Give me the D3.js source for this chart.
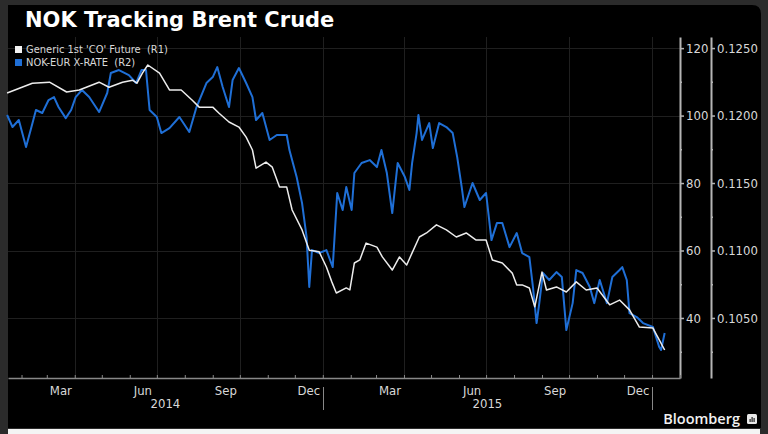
<!DOCTYPE html>
<html>
<head>
<meta charset="utf-8">
<script src="https://cdn.jsdelivr.net/npm/d3@7"></script>
<style>
  html, body { margin: 0; padding: 0; background: #2b2b2b; }
  svg { display: block; }
</style>
</head>
<body>
<svg id="chart" width="768" height="434"></svg>
<script>
// Generic 1st 'CO' Future (R1)
var brentDates = ['2014-01-16','2014-02-13','2014-03-04','2014-03-23','2014-04-06','2014-04-28','2014-05-09','2014-05-24','2014-06-04','2014-06-09','2014-06-15','2014-06-21','2014-07-04','2014-07-15','2014-07-28','2014-08-09','2014-08-17','2014-09-01','2014-09-08','2014-09-19','2014-09-30','2014-10-08','2014-10-15','2014-10-19','2014-10-30','2014-11-06','2014-11-14','2014-11-22','2014-11-28','2014-12-09','2014-12-17','2014-12-28',
  '2015-01-05','2015-01-11','2015-01-16','2015-01-27','2015-01-31','2015-02-05','2015-02-11','2015-02-18','2015-03-02','2015-03-08','2015-03-19','2015-03-27','2015-04-04','2015-04-10','2015-04-18','2015-04-26','2015-05-07','2015-05-18','2015-05-29','2015-06-09','2015-06-20','2015-07-01','2015-07-08','2015-07-19','2015-07-30','2015-08-04','2015-08-10','2015-08-18','2015-08-24','2015-09-01','2015-09-06','2015-09-17','2015-09-28','2015-10-09','2015-10-20','2015-11-01','2015-11-15','2015-11-26','2015-12-07','2015-12-18','2016-01-02','2016-01-09','2016-01-15'];
var brentPrices = [106.7,109.6,109.9,107.0,107.6,109.9,108.4,109.9,110.5,109.6,112.6,115.0,112.6,107.6,107.6,104.6,102.5,102.5,100.7,98.1,96.6,93.6,89.8,84.4,86.2,84.7,78.8,78.8,72.0,66.1,60.1,59.6,
  55.1,50.7,47.4,48.9,48.3,56.3,57.2,62.2,61.0,58.1,54.2,58.1,55.7,59.3,64.0,65.2,67.6,66.1,64.0,65.2,63.1,63.1,57.2,56.3,53.3,49.8,49.8,48.9,43.3,53.6,48.3,49.2,47.7,50.7,48.3,48.9,43.9,45.3,42.4,37.3,37.0,33.5,30.5];

// NOK-EUR X-RATE (R2)
var nokDates = ['2014-01-16','2014-01-22','2014-01-29','2014-02-06','2014-02-12','2014-02-17','2014-02-24','2014-03-03','2014-03-09','2014-03-14','2014-03-22','2014-03-28','2014-04-02','2014-04-09','2014-04-17','2014-04-28','2014-05-07','2014-05-11','2014-05-20','2014-05-31','2014-06-08','2014-06-14','2014-06-19','2014-06-23','2014-07-01','2014-07-06','2014-07-15','2014-07-26','2014-08-06','2014-08-14','2014-08-25','2014-09-01','2014-09-06','2014-09-12','2014-09-19','2014-09-23','2014-09-30','2014-10-08','2014-10-15','2014-10-19','2014-10-26','2014-11-03','2014-11-11','2014-11-22','2014-11-25','2014-12-03','2014-12-09','2014-12-14','2014-12-17','2014-12-20','2014-12-28',
  '2015-01-05','2015-01-12','2015-01-17','2015-01-23','2015-01-27','2015-02-02','2015-02-05','2015-02-13','2015-02-22','2015-03-02','2015-03-07','2015-03-13','2015-03-19','2015-03-25','2015-04-02','2015-04-07','2015-04-10','2015-04-15','2015-04-17','2015-04-21','2015-04-29','2015-05-03','2015-05-10','2015-05-18','2015-05-25','2015-05-30','2015-06-04','2015-06-07','2015-06-16','2015-06-24','2015-07-01','2015-07-07','2015-07-13','2015-07-19','2015-07-27','2015-08-04','2015-08-10','2015-08-18','2015-08-22','2015-08-26','2015-08-29','2015-09-02','2015-09-09','2015-09-17','2015-09-23','2015-09-28','2015-10-05','2015-10-09','2015-10-16','2015-10-24','2015-10-29','2015-11-04','2015-11-12','2015-11-18','2015-11-26','2015-11-29','2015-12-04','2015-12-07','2015-12-15','2015-12-22','2016-01-02','2016-01-09','2016-01-11','2016-01-15'];
var nokRates = [0.12004,0.11915,0.11967,0.11767,0.11915,0.12041,0.12019,0.12115,0.12137,0.12063,0.11981,0.12041,0.12137,0.12189,0.12137,0.12026,0.12167,0.12315,0.12337,0.12300,0.12241,0.12337,0.12337,0.12041,0.11989,0.11870,0.11907,0.11989,0.11878,0.12063,0.12241,0.12285,0.12359,0.12211,0.12063,0.12263,0.12352,0.12241,0.12137,0.11967,0.12019,0.11819,0.11856,0.11856,0.11744,0.11544,0.11351,0.11100,0.10729,0.11003,0.10981,
  0.11003,0.10877,0.11426,0.11300,0.11470,0.11300,0.11574,0.11648,0.11670,0.11618,0.11744,0.11574,0.11277,0.11648,0.11544,0.11448,0.11648,0.11870,0.12004,0.11819,0.11944,0.11759,0.11944,0.11915,0.11870,0.11692,0.11470,0.11322,0.11500,0.11374,0.11426,0.11077,0.11203,0.11203,0.11025,0.11129,0.10981,0.10951,0.10729,0.10462,0.10610,0.10833,0.10781,0.10840,0.10803,0.10410,0.10610,0.10855,0.10833,0.10729,0.10610,0.10781,0.10610,0.10803,0.10855,0.10877,0.10781,0.10536,0.10507,0.10462,0.10433,0.10284,0.10262,0.10388];

var r1Ticks = [40, 60, 80, 100, 120];
var r1Minor = [30, 50, 70, 90, 110];
var r2Ticks = [0.105, 0.110, 0.115, 0.120, 0.125];
var r2Minor = [0.1025, 0.1075, 0.1125, 0.1175, 0.1225];
var monthLabels = ['2014-03-16','2014-06-15','2014-09-15','2014-12-16','2015-03-16','2015-06-15','2015-09-15','2015-12-16'];
var yearStarts = ['2014-01-01','2015-01-01','2016-01-01'];

var parse = d3.timeParse('%Y-%m-%d');
var svg = d3.select('#chart');

var plotL = 8, plotR = 680, plotT = 37, plotB = 378;
var labelFont = 'DejaVu Sans Condensed, DejaVu Sans, sans-serif';

// panel background
svg.append('rect').attr('x', 0).attr('y', 0).attr('width', 768).attr('height', 434).attr('fill', '#2b2b2b');
svg.append('rect').attr('x', 8).attr('y', 429).attr('width', 752).attr('height', 5).attr('fill', '#f4f4f4');
svg.append('path')
	.attr('d', 'M8,5 H752 Q761,5 761,14 V428 H8 Z')
	.attr('fill', '#000');

var x = d3.scaleTime()
	.domain([parse('2014-01-17'), parse('2016-02-01')])
	.range([plotL, plotR]);
var y1 = d3.scaleLinear().domain([22.2, 123.3]).range([plotB, plotT]);
var y2 = d3.scaleLinear().domain([0.10055, 0.12582]).range([plotB, plotT]);

// grid
var grid = svg.append('g').attr('stroke', '#1f1f1f').attr('stroke-width', 1);
r1Ticks.forEach(function(v){
	grid.append('line').attr('x1', plotL).attr('x2', plotR)
		.attr('y1', Math.round(y1(v)) + 0.5).attr('y2', Math.round(y1(v)) + 0.5);
});
d3.timeMonth.every(3).range(parse('2014-04-01'), parse('2016-02-01')).forEach(function(d){
	grid.append('line').attr('y1', plotT).attr('y2', plotB)
		.attr('x1', Math.round(x(d)) + 0.5).attr('x2', Math.round(x(d)) + 0.5);
});

// series
var brent = brentDates.map(function(d, i){ return {date: parse(d), value: brentPrices[i]}; });
var nok = nokDates.map(function(d, i){ return {date: parse(d), value: nokRates[i]}; });

svg.append('path').datum(nok)
	.attr('fill', 'none')
	.attr('stroke', '#1f6fd6')
	.attr('stroke-width', 2)
	.attr('stroke-linejoin', 'round')
	.attr('d', d3.line().x(function(d){ return x(d.date); }).y(function(d){ return y2(d.value); }));

svg.append('path').datum(brent)
	.attr('fill', 'none')
	.attr('stroke', '#ececec')
	.attr('stroke-width', 1.5)
	.attr('stroke-linejoin', 'round')
	.attr('d', d3.line().x(function(d){ return x(d.date); }).y(function(d){ return y1(d.value); }));

// right axes
function rightAxis(scale, ticks, minor, fmt, xpos){
	var g = svg.append('g').attr('transform', 'translate(' + xpos + ',0)');
	g.call(d3.axisRight(scale).tickValues(ticks).tickSize(4).tickSizeOuter(0).tickPadding(2).tickFormat(fmt));
	g.append('g').call(d3.axisRight(scale).tickValues(minor).tickSize(2).tickSizeOuter(0).tickFormat(''))
		.select('.domain').remove();
	g.selectAll('.domain').attr('stroke', '#b5b5b5').attr('stroke-width', 2);
	g.selectAll('.tick line').attr('stroke', '#b5b5b5').attr('stroke-width', 1.5);
	g.selectAll('.tick text').attr('fill', '#d8d8d8')
		.style('font-family', labelFont).style('font-size', '13px');
	return g;
}
rightAxis(y1, r1Ticks, r1Minor, d3.format('d'), plotR);
rightAxis(y2, r2Ticks, r2Minor, d3.format('.4f'), 711);

// bottom axis
var xg = svg.append('g').attr('transform', 'translate(0,' + plotB + ')');
xg.call(d3.axisBottom(x).ticks(d3.timeMonth.every(1)).tickSize(-3).tickSizeOuter(0).tickFormat(''));
xg.select('.domain').attr('stroke', '#888').attr('stroke-width', 1.5);
xg.selectAll('.tick line').attr('stroke', '#888');

var lg = svg.append('g').attr('transform', 'translate(0,' + plotB + ')');
lg.call(d3.axisBottom(x).tickValues(monthLabels.map(parse)).tickSize(0).tickPadding(8).tickFormat(d3.timeFormat('%b')));
lg.select('.domain').remove();
lg.selectAll('.tick text').attr('fill', '#d8d8d8')
	.style('font-family', labelFont).style('font-size', '13px');

// year separators and labels
yearStarts.slice(1).forEach(function(d){
	var xx = Math.round(x(parse(d))) + 0.5;
	svg.append('line').attr('x1', xx).attr('x2', xx).attr('y1', 387).attr('y2', 410)
		.attr('stroke', '#888').attr('stroke-width', 1);
});
for (var i = 0; i < yearStarts.length - 1; i++){
	var a = Math.max(plotL, x(parse(yearStarts[i])));
	var b = x(parse(yearStarts[i + 1]));
	svg.append('text')
		.attr('x', (a + b) / 2).attr('y', 408)
		.attr('text-anchor', 'middle')
		.attr('fill', '#d8d8d8')
		.style('font-family', labelFont).style('font-size', '13px')
		.text(yearStarts[i].slice(0, 4));
}

// title
svg.append('text')
	.attr('x', 25).attr('y', 27)
	.attr('fill', '#fff')
	.style('font-family', 'DejaVu Sans, sans-serif').style('font-weight', 'bold').style('font-size', '21px')
	.text('NOK Tracking Brent Crude');

// legend
var legend = [
	{label: "Generic 1st 'CO' Future\u00a0\u00a0(R1)", color: '#f2f2f2', y: 46},
	{label: 'NOK-EUR X-RATE\u00a0\u00a0(R2)', color: '#1f6fd6', y: 59}
];
legend.forEach(function(l){
	svg.append('rect').attr('x', 15).attr('y', l.y).attr('width', 7).attr('height', 7).attr('fill', l.color);
	svg.append('text').attr('x', 26).attr('y', l.y + 7)
		.attr('fill', '#d8d8d8')
		.style('font-family', labelFont).style('font-size', '11px')
		.text(l.label);
});

// Bloomberg mark
svg.append('text')
	.attr('x', 740).attr('y', 424)
	.attr('text-anchor', 'end')
	.attr('fill', '#f2f2f2')
	.style('font-family', 'Open Sans, sans-serif').style('font-weight', '600').style('font-size', '14.5px')
	.text('Bloomberg');
svg.append('rect').attr('x', 747).attr('y', 414).attr('width', 10).attr('height', 10).attr('rx', 1.5).attr('fill', '#e8e8e8');
[[749.5, 3], [751.5, 5], [753.5, 4]].forEach(function(b){
	svg.append('rect').attr('x', b[0]).attr('y', 422 - b[1]).attr('width', 1.2).attr('height', b[1]).attr('fill', '#222');
});
</script>
</body>
</html>
